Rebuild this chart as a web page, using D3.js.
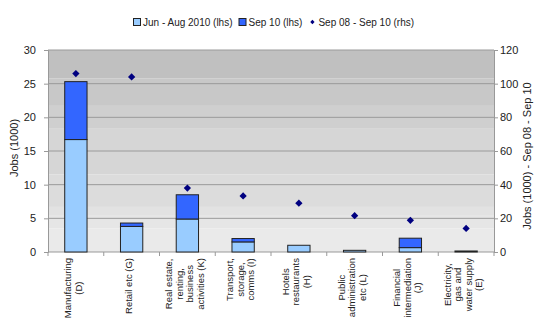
<!DOCTYPE html>
<html>
<head>
<meta charset="utf-8">
<script src="https://cdn.jsdelivr.net/npm/d3@7"></script>
<style>
  body { margin: 0; background: #fff; }
  text { font-family: "Liberation Sans", Arial, sans-serif; fill: #222; }
</style>
</head>
<body>
<div class="chart"></div>
<script>
var margin = {top: 50, right: 54, bottom: 70, left: 48},
  width = 548 - margin.left - margin.right,
  height = 322 - margin.top - margin.bottom;

// data
const categories = [
  ['Manufacturing', '(D)'],
  ['Retail etc (G)'],
  ['Real estate,', 'renting,', 'business', 'activities (K)'],
  ['Transport,', 'storage,', 'comms (I)'],
  ['Hotels', 'restaurants', '(H)'],
  ['Public', 'administration', 'etc (L)'],
  ['Financial', 'intermediation', '(J)'],
  ['Electricity,', 'gas and', 'water supply', '(E)']
];
const junAug = [16.7, 3.8, 4.9, 1.5, 1.0, 0.25, 0.65, 0.15];
const sep10 = [8.6, 0.5, 3.6, 0.5, 0, 0, 1.4, 0];
const change = [106, 104, 38, 33.3, 29, 21.6, 18.8, 14];
const leftTicks = [0, 5, 10, 15, 20, 25, 30];
const rightTicks = [0, 20, 40, 60, 80, 100, 120];

var svg = d3.select('.chart').append('svg')
  .attr('width', 548).attr('height', 322);

var g = svg.append('g')
  .attr('transform', 'translate(' + margin.left + ',' + margin.top + ')');

var idx = d3.range(categories.length);
var x = d3.scaleBand().domain(idx).range([0, width]);
var y = d3.scaleLinear().domain([0, 30]).range([height, 0]);
var y2 = d3.scaleLinear().domain([0, 120]).range([height, 0]);

// stepped grey background, darker at top
var bands = ['#c0c0c0', '#c8c8c8', '#cfcfcf', '#d6d6d6', '#dcdcdc', '#e2e2e2', '#e6e6e6', '#eaeaea'];
var bandEdges = [30, 25.8, 21.7, 18.3, 11.5, 6.7, 5.5, 3.5, 0];
g.selectAll('.bg').data(bands).enter().append('rect')
  .attr('x', 0).attr('width', width)
  .attr('y', (d, i) => y(bandEdges[i]))
  .attr('height', (d, i) => y(bandEdges[i + 1]) - y(bandEdges[i]))
  .attr('fill', d => d);

// grid
g.selectAll('.grid').data(leftTicks.slice(1)).enter().append('line')
  .attr('x1', 0).attr('x2', width)
  .attr('y1', d => y(d)).attr('y2', d => y(d))
  .attr('stroke', '#9a9a9a').attr('stroke-width', 1);

// axes
var yAxis = g.append('g').call(d3.axisLeft(y).tickValues(leftTicks).tickSize(4).tickPadding(8));
var y2Axis = g.append('g').attr('transform', 'translate(' + width + ',0)')
  .call(d3.axisRight(y2).tickValues(rightTicks).tickSize(4).tickPadding(2));
[yAxis, y2Axis].forEach(function(a) {
  a.select('.domain').attr('stroke', '#999');
  a.selectAll('.tick line').attr('stroke', '#999');
  a.selectAll('text').style('font-size', '11px').style('font-family', '"Liberation Sans", Arial, sans-serif').attr('fill', '#222');
});

// x axis line and category separators
g.append('line').attr('x1', 0).attr('x2', width).attr('y1', height).attr('y2', height)
  .attr('stroke', '#999');
g.selectAll('.sep').data(d3.range(categories.length + 1)).enter().append('line')
  .attr('x1', d => d * x.step()).attr('x2', d => d * x.step())
  .attr('y1', height).attr('y2', height + 4)
  .attr('stroke', '#999');

// stacked bars
var bw = x.bandwidth() * 0.4;
var bars = g.selectAll('.bar').data(idx).enter().append('g');
bars.append('rect')
  .attr('x', i => x(i) + (x.bandwidth() - bw) / 2)
  .attr('width', bw)
  .attr('y', i => y(junAug[i]))
  .attr('height', i => y(0) - y(junAug[i]))
  .attr('fill', '#99ccff').attr('stroke', '#222').attr('stroke-width', 1);
bars.filter(i => sep10[i] > 0).append('rect')
  .attr('x', i => x(i) + (x.bandwidth() - bw) / 2)
  .attr('width', bw)
  .attr('y', i => y(junAug[i] + sep10[i]))
  .attr('height', i => y(junAug[i]) - y(junAug[i] + sep10[i]))
  .attr('fill', '#3366ff').attr('stroke', '#222').attr('stroke-width', 1);

// diamonds (rhs)
var diamond = d3.symbol().type(d3.symbolDiamond2).size(34);
g.selectAll('.dot').data(idx).enter().append('path')
  .attr('d', diamond)
  .attr('transform', i => 'translate(' + (x(i) + x.bandwidth() / 2) + ',' + y2(change[i]) + ')')
  .attr('fill', '#000080');

// category labels, rotated, wrapped lines centered
var lh = 10.5;
var lab = g.selectAll('.lab').data(idx).enter().append('text')
  .style('font-size', '9.5px');
lab.each(function(i) {
  var t = d3.select(this);
  var lines = categories[i];
  var tmp = t.append('tspan');
  var w = 0;
  lines.forEach(function(l) {
    tmp.text(l);
    w = Math.max(w, tmp.node().getComputedTextLength());
  });
  tmp.remove();
  var cx = x(i) + x.bandwidth() / 2 - 3;
  var cy = height + 6 + w / 2;
  t.attr('transform', 'translate(' + cx + ',' + cy + ') rotate(-90)')
    .attr('text-anchor', 'middle');
  var off = -(lines.length - 1) * lh / 2 + 3.5;
  lines.forEach(function(l, k) {
    t.append('tspan').attr('x', 0).attr('y', off + k * lh).text(l);
  });
});

// axis titles
svg.append('text')
  .attr('transform', 'translate(18,148) rotate(-90)')
  .attr('text-anchor', 'middle')
  .style('font-size', '11px')
  .text('Jobs (1000)');
svg.append('text')
  .attr('transform', 'translate(531,156) rotate(-90)')
  .attr('text-anchor', 'middle')
  .style('font-size', '11px')
  .text('Jobs (1000) - Sep 08 - Sep 10');

// legend
var legendItems = [
  {label: 'Jun - Aug 2010 (lhs)', type: 'rect', color: '#99ccff'},
  {label: 'Sep 10 (lhs)', type: 'rect', color: '#3366ff'},
  {label: 'Sep 08 - Sep 10 (rhs)', type: 'dot', color: '#000080'}
];
var leg = svg.append('g').attr('transform', 'translate(133,22)');
var lx = 0;
legendItems.forEach(function(d) {
  var item = leg.append('g').attr('transform', 'translate(' + lx + ',0)');
  if (d.type === 'rect') {
    item.append('rect').attr('x', 0.5).attr('y', -3.5).attr('width', 7).attr('height', 7)
      .attr('fill', d.color).attr('stroke', '#222').attr('stroke-width', 1);
  } else {
    item.append('path').attr('d', d3.symbol().type(d3.symbolDiamond2).size(12))
      .attr('transform', 'translate(4,0)').attr('fill', d.color);
  }
  var t = item.append('text').attr('x', 10).attr('y', 4)
    .style('font-size', '10px').text(d.label);
  lx += 10 + t.node().getComputedTextLength() + 6;
});
</script>
</body>
</html>
